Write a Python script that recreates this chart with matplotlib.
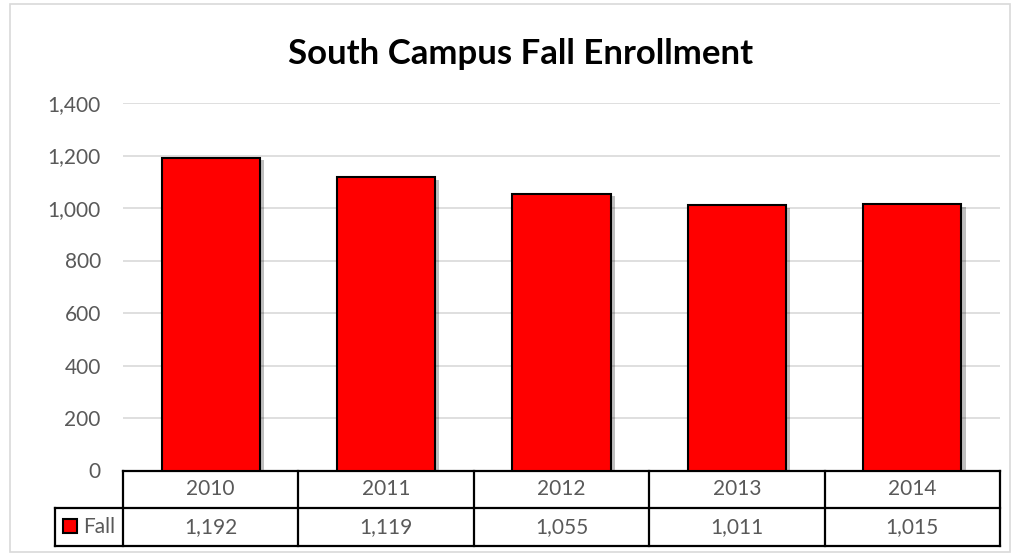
import matplotlib.pyplot as plt
import matplotlib.patheffects as pe
from matplotlib.patches import Rectangle

# data
years = ['2010', '2011', '2012', '2013', '2014']
fall = [1192, 1119, 1055, 1011, 1015]
yticks = [0, 200, 400, 600, 800, 1000, 1200, 1400]

plt.rcParams['font.family'] = ['Lato', 'DejaVu Sans']
grey = '#595959'

fig = plt.figure(figsize=(10.12, 5.56), dpi=100)
W, H = 1012, 556

# outer chart border
fig.patches.append(Rectangle((10 / W, 1 - 552 / H), 1000 / W, 548 / H,
                             transform=fig.transFigure, fill=False,
                             edgecolor='#d9d9d9', lw=1.2))

ax = fig.add_axes([123 / W, 1 - 470.5 / H, 877 / W, 367.5 / H])
x = list(range(len(years)))
bars = ax.bar(x, fall, width=0.56, color='#ff0000', edgecolor='black', lw=1.5, zorder=3)
for b in bars:
    b.set_path_effects([pe.SimplePatchShadow(offset=(3, -2), shadow_rgbFace='black', alpha=0.25),
                        pe.Normal()])

ax.set_xlim(-0.5, len(years) - 0.5)
ax.set_ylim(0, 1400)
ax.set_yticks(yticks)
ax.set_yticklabels([f'{v:,}' for v in yticks], color=grey, fontsize=15)
ax.tick_params(axis='y', length=0, pad=16)
ax.set_xticks([])
ax.grid(axis='y', color='#d9d9d9', lw=1.2, zorder=0)
for s in ax.spines.values():
    s.set_visible(False)

# data table under the bars (x in data units, y in axes fraction)
tr = ax.get_xaxis_transform()
rowh = 37.5 / 367.5
n = len(years)
lbl_left = -0.5 - 68 / (877 / n)
kw = dict(color='black', lw=1.6, transform=tr, clip_on=False, solid_capstyle='projecting')
ax.plot([-0.5, n - 0.5], [0, 0], **kw)
ax.plot([lbl_left, n - 0.5], [-rowh, -rowh], **kw)
ax.plot([lbl_left, n - 0.5], [-2 * rowh, -2 * rowh], **kw)
ax.plot([lbl_left, lbl_left], [-rowh, -2 * rowh], **kw)
for i in range(n + 1):
    ax.plot([i - 0.5, i - 0.5], [0, -2 * rowh], **kw)
for i in range(n):
    ax.text(i, -0.5 * rowh, years[i], transform=tr, ha='center', va='center',
            color=grey, fontsize=15)
    ax.text(i, -1.5 * rowh, f'{fall[i]:,}', transform=tr, ha='center', va='center',
            color=grey, fontsize=15)
ax.text(83 / W, 1 - 527 / H, 'Fall', transform=fig.transFigure, ha='left', va='center',
        color=grey, fontsize=15)
# legend key inside the row label cell
fig.patches.append(Rectangle((63 / W, 1 - 533 / H), 14 / W, 14 / H,
                             transform=fig.transFigure, facecolor='#ff0000',
                             edgecolor='black', lw=1.5))

fig.text(521 / W, 1 - 54 / H, 'South Campus Fall Enrollment', ha='center', va='center',
         fontsize=25, fontweight='bold', color='black')

fig.savefig('out.png', dpi=100)
